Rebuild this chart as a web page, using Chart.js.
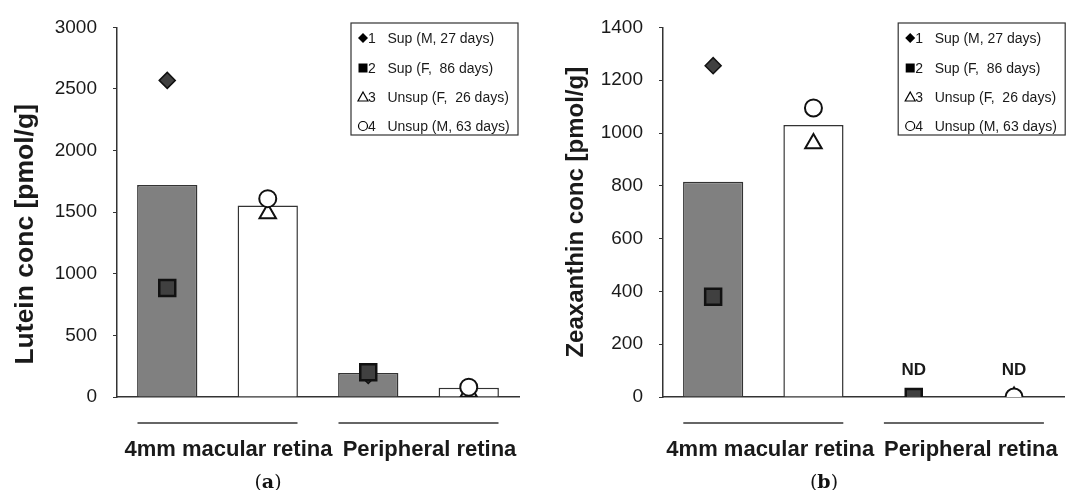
<!DOCTYPE html>
<html lang="en">
<head>
<meta charset="UTF-8">
<title>Lutein and zeaxanthin in retina</title>
<script src="https://cdn.jsdelivr.net/npm/chart.js"></script>
<style>
    body {
        margin: 0;
        background: #ffffff;
        width: 1078px;
        height: 490px;
        overflow: hidden;
        position: relative;
        font-family: "Liberation Sans", Arial, sans-serif;
    }
    .panel {
        position: absolute;
        top: 0;
        height: 490px;
    }
    #panelA { left: 0; width: 540px; }
    #panelB { left: 552px; width: 526px; }
    .sub {
        position: absolute;
        top: 470px;
        font-family: "DejaVu Serif", serif;
        font-size: 19px;
        color: #111;
        transform: translateX(-50%);
    }
</style>
</head>
<body>
<div class="panel" id="panelA"><canvas id="luteinChart"></canvas></div>
<div class="panel" id="panelB"><canvas id="zeaChart"></canvas></div>
<div class="sub" style="left:268px">(<b>a</b>)</div>
<div class="sub" style="left:824px">(<b>b</b>)</div>

<script>
// bars: supplemented / unsupplemented, for each retina region
const CATEGORIES = ['Sup macular', 'Unsup macular', 'Sup peripheral', 'Unsup peripheral'];
const GROUPS = ['4mm macular retina', 'Peripheral retina'];
const SUBJECTS = ['1   Sup (M, 27 days)', '2   Sup (F,  86 days)', '3   Unsup (F,  26 days)', '4   Unsup (M, 63 days)'];

// Lutein, pmol/g
const LUTEIN_MEAN = [1720, 1555, 195, 75];
const LUTEIN_S1 = [2570, null, 175, null];
const LUTEIN_S2 = [885, null, 200, null];
const LUTEIN_S3 = [null, 1490, null, 40];
const LUTEIN_S4 = [null, 1610, null, 80];
const LUTEIN_TICKS = [0, 500, 1000, 1500, 2000, 2500, 3000];

// Zeaxanthin, pmol/g (peripheral not detected)
const ZEA_MEAN = [815, 1030, null, null];
const ZEA_S1 = [1255, null, 0, null];
const ZEA_S2 = [380, null, 0, null];
const ZEA_S3 = [null, 960, null, 0];
const ZEA_S4 = [null, 1095, null, 0];
const ZEA_NOTES = [null, null, 'ND', 'ND'];
const ZEA_TICKS = [0, 200, 400, 600, 800, 1000, 1200, 1400];

const FONT = '"Liberation Sans", Arial, sans-serif';
const INK = '#1a1a1a';

// small legend glyphs
function glyph(ctx, style, cx, cy) {
    ctx.beginPath();
    ctx.lineWidth = 1.2;
    ctx.strokeStyle = '#000';
    if (style === 'diamond') {
        ctx.moveTo(cx, cy - 5); ctx.lineTo(cx + 5, cy); ctx.lineTo(cx, cy + 5); ctx.lineTo(cx - 5, cy);
        ctx.closePath(); ctx.fillStyle = '#000'; ctx.fill();
    } else if (style === 'square') {
        ctx.rect(cx - 4.5, cy - 4.5, 9, 9); ctx.fillStyle = '#000'; ctx.fill();
    } else if (style === 'triangle') {
        ctx.moveTo(cx, cy - 5); ctx.lineTo(cx + 5, cy + 4); ctx.lineTo(cx - 5, cy + 4);
        ctx.closePath(); ctx.fillStyle = '#fff'; ctx.fill(); ctx.stroke();
    } else {
        ctx.arc(cx, cy, 4.5, 0, Math.PI * 2); ctx.fillStyle = '#fff'; ctx.fill(); ctx.stroke();
    }
}

const extras = {
    id: 'extras',
    afterDraw(chart, args, opts) {
        const ctx = chart.ctx;
        const area = chart.chartArea;
        const x = chart.scales.x;
        ctx.save();

        // group brackets under the axis
        ctx.strokeStyle = '#333';
        ctx.lineWidth = 1.5;
        for (let g = 0; g < GROUPS.length; g++) {
            const c = (x.getPixelForValue(2 * g) + x.getPixelForValue(2 * g + 1)) / 2;
            ctx.beginPath();
            ctx.moveTo(c - 80, area.bottom + 26);
            ctx.lineTo(c + 80, area.bottom + 26);
            ctx.stroke();
        }

        // ND notes
        if (opts.notes) {
            ctx.fillStyle = INK;
            ctx.font = 'bold 17px ' + FONT;
            ctx.textAlign = 'center';
            ctx.textBaseline = 'middle';
            opts.notes.forEach((n, i) => {
                if (n) ctx.fillText(n, x.getPixelForValue(i), area.bottom - 27);
            });
        }

        // legend box
        const bw = 167, bh = 112;
        const bx = area.right - bw + opts.boxShift, by = 23;
        ctx.strokeStyle = '#333';
        ctx.lineWidth = 1.2;
        ctx.strokeRect(bx, by, bw, bh);
        const styles = ['diamond', 'square', 'triangle', 'circle'];
        const rows = [15, 45, 74, 103];
        ctx.font = '14px ' + FONT;
        ctx.textAlign = 'left';
        ctx.textBaseline = 'middle';
        SUBJECTS.forEach((s, i) => {
            glyph(ctx, styles[i], bx + 12, by + rows[i]);
            ctx.fillStyle = INK;
            ctx.fillText(s, bx + 17, by + rows[i] + 1);
        });
        ctx.restore();
    }
};

function pointSet(data, style, fill, radius, order, width) {
    return {
        type: 'line',
        data: data,
        showLine: false,
        pointStyle: style,
        pointRadius: radius,
        pointHoverRadius: radius,
        pointBackgroundColor: fill,
        pointBorderColor: '#111',
        pointBorderWidth: width,
        order: order
    };
}

function makeChart(id, mean, s1, s2, s3, s4, ticks, title, titleSize, areaLeft, padRight, labelShift, notes, boxShift) {
    const step = ticks[1] - ticks[0];
    return new Chart(document.getElementById(id), {
        type: 'bar',
        data: {
            labels: CATEGORIES,
            datasets: [
                {
                    data: mean,
                    backgroundColor: ['#808080', '#ffffff', '#808080', '#ffffff'],
                    borderColor: '#333',
                    borderWidth: 1.5,
                    categoryPercentage: 1,
                    barPercentage: 0.6,
                    order: 5
                },
                pointSet(s1, 'rectRot', '#404040', 8, 4, 1.5),
                pointSet(s2, 'rect', '#404040', 11.3, 2, 2.5),
                pointSet(s3, 'triangle', '#ffffff', 9.5, 3, 2),
                pointSet(s4, 'circle', '#ffffff', 8.5, 1, 2)
            ]
        },
        options: {
            responsive: true,
            maintainAspectRatio: false,
            animation: false,
            events: [],
            layout: { padding: { top: 24, right: padRight, bottom: 0, left: 0 } },
            plugins: {
                legend: { display: false },
                tooltip: { enabled: false },
                extras: { notes: notes, boxShift: boxShift }
            },
            scales: {
                x: {
                    ticks: { display: false },
                    grid: { display: false, drawTicks: false },
                    border: { display: true, color: '#333', width: 1.5 },
                    afterFit: s => { s.height = 0; }
                },
                x2: {
                    type: 'category',
                    position: 'bottom',
                    labels: GROUPS,
                    offset: true,
                    grid: { display: false, drawTicks: false },
                    border: { display: false },
                    ticks: {
                        color: INK,
                        padding: 40,
                        autoSkip: false,
                        maxRotation: 0,
                        labelOffset: labelShift,
                        font: { family: FONT, size: 22, weight: 'bold' }
                    },
                    afterFit: s => {
                        s.height = 93;
                        s.paddingLeft = 0;
                        s.paddingRight = 0;
                    }
                },
                y: {
                    min: ticks[0],
                    max: ticks[ticks.length - 1],
                    ticks: {
                        stepSize: step,
                        color: INK,
                        padding: 16,
                        font: { family: FONT, size: 19 },
                        callback: v => String(v)
                    },
                    grid: { display: true, drawOnChartArea: false, tickLength: 4, color: '#333' },
                    border: { display: true, color: '#333', width: 1.5 },
                    title: {
                        display: true,
                        text: title,
                        color: INK,
                        padding: { top: 10, bottom: 0 },
                        font: { family: FONT, size: titleSize, weight: 'bold' }
                    },
                    afterFit: s => { s.width = areaLeft; }
                }
            }
        },
        plugins: [extras]
    });
}

// trailing spaces push the lutein title a little down, as in the original
makeChart('luteinChart', LUTEIN_MEAN, LUTEIN_S1, LUTEIN_S2, LUTEIN_S3, LUTEIN_S4,
    LUTEIN_TICKS, 'Lutein conc [pmol/g]\u00a0\u00a0\u00a0\u00a0\u00a0\u00a0', 26.5, 117, 21, 11, null, -1);
makeChart('zeaChart', ZEA_MEAN, ZEA_S1, ZEA_S2, ZEA_S3, ZEA_S4,
    ZEA_TICKS, 'Zeaxanthin conc [pmol/g]', 24, 111, 6, 7, ZEA_NOTES, 1);
</script>
</body>
</html>
